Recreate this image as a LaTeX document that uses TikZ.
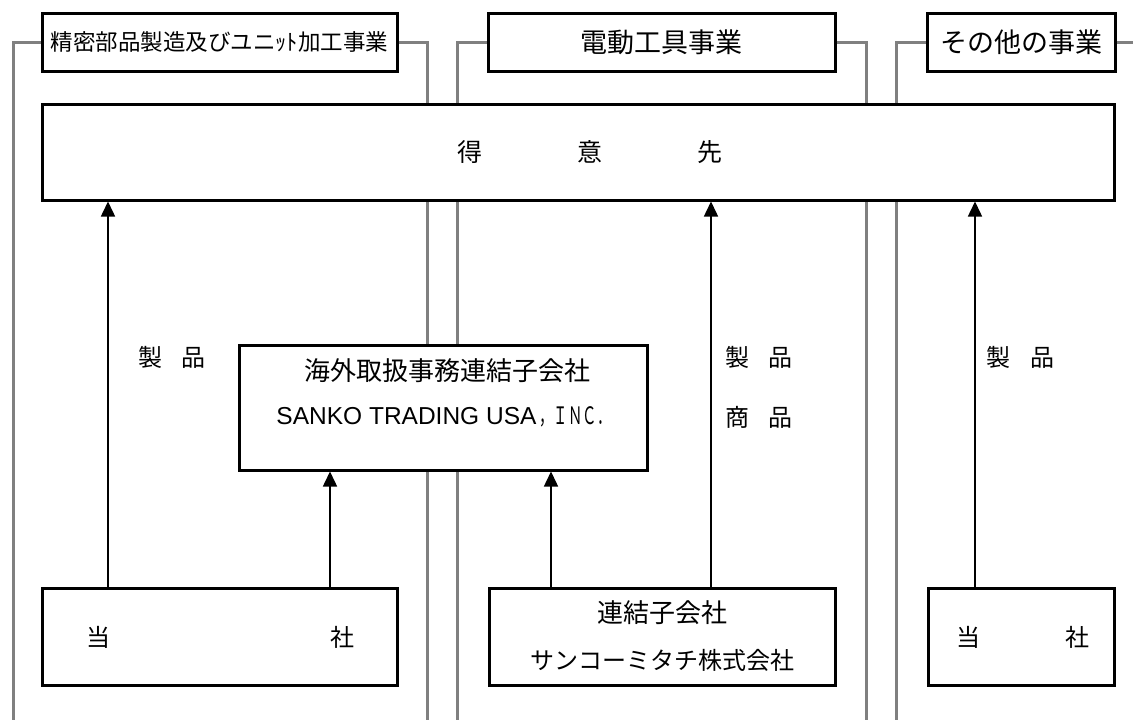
\documentclass[tikz,border=0pt]{standalone}
\usepackage{fontspec}
\setmainfont{Noto Sans CJK JP}
\newfontfamily\latinfont{Liberation Sans}
\usetikzlibrary{arrows.meta}
\definecolor{linegray}{HTML}{808080}
\newcommand{\fsz}[1]{\fontsize{#1}{#1}\selectfont}
\begin{document}
\begin{tikzpicture}[x=1pt,y=-1pt,
  box/.style={draw=black,line width=3pt,fill=white,inner sep=0pt},
  grayline/.style={draw=linegray,line width=3pt},
  flow/.style={draw=black,line width=1.5pt,-{Triangle[width=14pt,length=15pt]}},
  lbl/.style={inner sep=0pt,font=\fsz{24}}]
\useasboundingbox (0,0) rectangle (1133,720);
% header boxes
\node[box,minimum width=355pt,minimum height=58pt,font=\fsz{22.5}] (h1) at (219.5,42) {精密部品製造及びユニｯﾄ加工事業};
\node[box,minimum width=347pt,minimum height=58pt,font=\fsz{27}] (h2) at (661.5,42) {電動工具事業};
\node[box,minimum width=188pt,minimum height=58pt,font=\fsz{27}] (h3) at (1021,42) {その他の事業};
% gray section brackets
\coordinate (g1l) at (13,720);
\coordinate (g1r) at (427,720);
\coordinate (g2l) at (457,720);
\coordinate (g2r) at (866,720);
\coordinate (g3l) at (896,720);
\coordinate (g3r) at (1133,42);
\draw[grayline] (g1l) |- (h1.west);
\draw[grayline] (h1.east) -| (g1r);
\draw[grayline] (g2l) |- (h2.west);
\draw[grayline] (h2.east) -| (g2r);
\draw[grayline] (g3l) |- (h3.west);
\draw[grayline] (h3.east) -- (g3r);
% customer box
\node[box,minimum width=1072pt,minimum height=96pt] (main) at (578,152) {};
\node[lbl,font=\fsz{25}] (maint) at (590,152) {得\hspace{95pt}意\hspace{95pt}先};
% overseas subsidiary
\node[box,minimum width=408pt,minimum height=125pt] (ovs) at (443,407.5) {};
\node[lbl,font=\fsz{26}] (ovs1) at (447,371) {海外取扱事務連結子会社};
\node[lbl] (ovs2) at (444,417) {{\latinfont\fsz{24.5}SANKO TRADING USA}\hspace{3pt}\scalebox{0.6}[1]{\fsz{24}，ＩＮＣ．}};
% bottom boxes
\node[box,minimum width=355pt,minimum height=97pt] (b1) at (219.5,636.5) {};
\node[lbl] (b1t) at (220,637) {当\hspace{220pt}社};
\node[box,minimum width=346pt,minimum height=97pt] (b2) at (662,636.5) {};
\node[lbl,font=\fsz{26}] (b2a) at (662,613) {連結子会社};
\node[lbl] (b2b) at (662,660) {サンコーミタチ株式会社};
\node[box,minimum width=186pt,minimum height=97pt] (b3) at (1021,636.5) {};
\node[lbl] (b3t) at (1022.5,637) {当\hspace{85pt}社};
% arrows
\draw[flow] (b1.north -| 108,0) -- (main.south -| 108,0);
\draw[flow] (b1.north -| 330,0) -- (ovs.south -| 330,0);
\draw[flow] (b2.north -| 551,0) -- (ovs.south -| 551,0);
\draw[flow] (b2.north -| 711,0) -- (main.south -| 711,0);
\draw[flow] (b3.north -| 975,0) -- (main.south -| 975,0);
% labels
\node[lbl] (l1) at (172,357) {製\hspace{20pt}品};
\node[lbl] (l2) at (759,357) {製\hspace{20pt}品};
\node[lbl] (l3) at (759,417) {商\hspace{20pt}品};
\node[lbl] (l4) at (1020,357) {製\hspace{20pt}品};
\end{tikzpicture}
\end{document}
